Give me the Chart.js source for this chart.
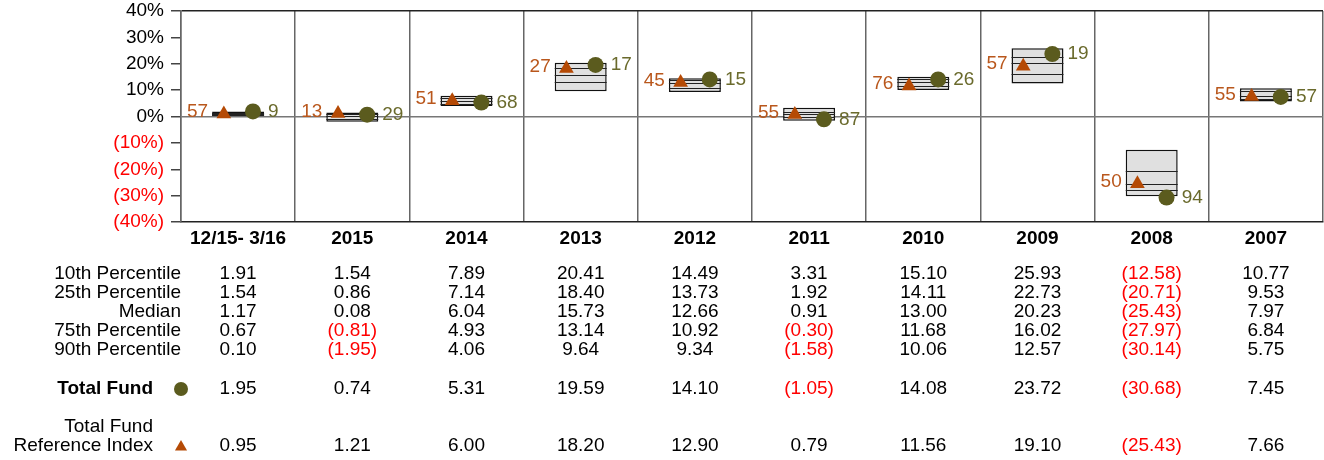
<!DOCTYPE html>
<html>
<head>
<meta charset="utf-8">
<script src="https://cdn.jsdelivr.net/npm/chart.js@4/dist/chart.umd.min.js"></script>
<style>
  body { margin: 0; background: #fff; overflow: hidden; }
  #wrap { width: 1324px; height: 460px; position: relative; }
</style>
</head>
<body>
<div id="wrap"><canvas id="chart"></canvas></div>
<script>
const categories = ['12/15- 3/16', '2015', '2014', '2013', '2012', '2011', '2010', '2009', '2008', '2007'];
const p10 = [1.91, 1.54, 7.89, 20.41, 14.49, 3.31, 15.10, 25.93, -12.58, 10.77];
const p25 = [1.54, 0.86, 7.14, 18.40, 13.73, 1.92, 14.11, 22.73, -20.71, 9.53];
const median = [1.17, 0.08, 6.04, 15.73, 12.66, 0.91, 13.00, 20.23, -25.43, 7.97];
const p75 = [0.67, -0.81, 4.93, 13.14, 10.92, -0.30, 11.68, 16.02, -27.97, 6.84];
const p90 = [0.10, -1.95, 4.06, 9.64, 9.34, -1.58, 10.06, 12.57, -30.14, 5.75];
const totalFund = [1.95, 0.74, 5.31, 19.59, 14.10, -1.05, 14.08, 23.72, -30.68, 7.45];
const refIndex = [0.95, 1.21, 6.00, 18.20, 12.90, 0.79, 11.56, 19.10, -25.43, 7.66];
const fundRanks = [9, 29, 68, 17, 15, 87, 26, 19, 94, 57];
const refRanks = [57, 13, 51, 27, 45, 55, 76, 57, 50, 55];
const yTicks = [-40, -30, -20, -10, 0, 10, 20, 30, 40];

const FONT = 'Arial, "Liberation Sans", sans-serif';
const FS = 19;
const OLIVE = '#5b5b1e';
const OLIVE_TEXT = '#6a6a2c';
const ORANGE = '#b54a05';
const ORANGE_TEXT = '#b9571c';
const RED = '#ff0000';

Chart.defaults.font.family = FONT;
Chart.defaults.color = '#000';

function fmt(v) {
  return v < 0 ? '(' + Math.abs(v).toFixed(2) + ')' : v.toFixed(2);
}

// percentile lines inside each box
const innerLines = {
  id: 'innerLines',
  afterDatasetDraw(chart, args) {
    if (args.index !== 0) return;
    const ctx = chart.ctx;
    const y = chart.scales.y;
    ctx.save();
    ctx.strokeStyle = '#222';
    ctx.lineWidth = 1;
    args.meta.data.forEach((bar, i) => {
      const half = bar.width / 2;
      [p25[i], median[i], p75[i]].forEach(v => {
        const py = Math.round(y.getPixelForValue(v)) + 0.5;
        ctx.beginPath();
        ctx.moveTo(bar.x - half, py);
        ctx.lineTo(bar.x + half, py);
        ctx.stroke();
      });
    });
    ctx.restore();
  }
};

// rank labels + data table under the chart
const extras = {
  id: 'extras',
  afterDraw(chart) {
    const ctx = chart.ctx;
    const x = chart.scales.x;
    const bars = chart.getDatasetMeta(0).data;
    const fundPts = chart.getDatasetMeta(1).data;
    const refPts = chart.getDatasetMeta(2).data;
    ctx.save();
    ctx.font = FS + 'px ' + FONT;
    ctx.textBaseline = 'middle';
    bars.forEach((bar, i) => {
      const half = bar.width / 2;
      ctx.textAlign = 'right';
      ctx.fillStyle = ORANGE_TEXT;
      ctx.fillText(String(refRanks[i]), bar.x - half - 4, refPts[i].y - 2);
      ctx.textAlign = 'left';
      ctx.fillStyle = OLIVE_TEXT;
      ctx.fillText(String(fundRanks[i]), bar.x + half + 4, fundPts[i].y);
    });

    // table
    const rows = [
      ['10th Percentile', p10, 274],
      ['25th Percentile', p25, 293],
      ['Median', median, 312],
      ['75th Percentile', p75, 331],
      ['90th Percentile', p90, 350],
      ['Total Fund', totalFund, 389],
      ['Reference Index', refIndex, 446]
    ];
    rows.forEach(([label, vals, ry], r) => {
      ctx.textAlign = 'right';
      ctx.fillStyle = '#000';
      if (r < 5) {
        ctx.font = FS + 'px ' + FONT;
        ctx.fillText(label, 181, ry);
      } else if (r === 5) {
        ctx.font = 'bold ' + FS + 'px ' + FONT;
        ctx.fillText(label, 153, ry);
      } else {
        ctx.font = FS + 'px ' + FONT;
        ctx.fillText('Total Fund', 153, ry - 19);
        ctx.fillText(label, 153, ry);
      }
      ctx.font = FS + 'px ' + FONT;
      ctx.textAlign = 'center';
      vals.forEach((v, i) => {
        ctx.fillStyle = v < 0 ? RED : '#000';
        ctx.fillText(fmt(v), x.getPixelForValue(i), ry);
      });
    });
    // legend markers in the table
    ctx.fillStyle = OLIVE;
    ctx.strokeStyle = OLIVE;
    Chart.helpers.drawPoint(ctx, { pointStyle: 'circle', radius: 7, borderWidth: 0 }, 181, 389);
    ctx.fillStyle = ORANGE;
    ctx.strokeStyle = ORANGE;
    Chart.helpers.drawPoint(ctx, { pointStyle: 'triangle', radius: 7, borderWidth: 0 }, 181, 447);
    ctx.restore();
  }
};

new Chart(document.getElementById('chart'), {
  data: {
    labels: categories,
    datasets: [
      {
        type: 'bar',
        data: p90.map((v, i) => [v, p10[i]]),
        backgroundColor: '#e0e0e0',
        borderColor: '#111',
        borderWidth: 1.5,
        borderSkipped: false,
        grouped: false,
        barPercentage: 0.455,
        categoryPercentage: 1,
        xAxisID: 'x',
        order: 2
      },
      {
        type: 'line',
        data: totalFund.map((v, i) => ({ x: i + 0.13, y: v })),
        showLine: false,
        pointStyle: 'circle',
        pointRadius: 8,
        pointBackgroundColor: OLIVE,
        pointBorderColor: OLIVE,
        pointBorderWidth: 0,
        xAxisID: 'xm',
        order: 0
      },
      {
        type: 'line',
        data: refIndex.map((v, i) => ({ x: i - 0.125, y: v })),
        showLine: false,
        pointStyle: 'triangle',
        pointRadius: 8.5,
        pointBackgroundColor: ORANGE,
        pointBorderColor: ORANGE,
        pointBorderWidth: 0,
        xAxisID: 'xm',
        order: 1
      }
    ]
  },
  options: {
    responsive: true,
    maintainAspectRatio: false,
    animation: false,
    events: [],
    layout: { autoPadding: false, padding: { top: 11, right: 1, bottom: 205, left: 0 } },
    plugins: { legend: { display: false }, tooltip: { enabled: false } },
    scales: {
      x: {
        type: 'category',
        offset: true,
        afterFit(scale) {
          scale.paddingLeft = 0;
          scale.paddingRight = 0;
        },
        grid: { offset: true, color: '#666', lineWidth: 1.5, drawTicks: false },
        border: { color: '#222', width: 1.5 },
        ticks: { font: { size: FS, weight: 'bold' }, color: '#000', padding: 5, maxRotation: 0 }
      },
      xm: {
        type: 'linear',
        display: false,
        min: -0.5,
        max: 9.5
      },
      y: {
        min: -40,
        max: 40,
        afterFit(scale) {
          scale.width = 181;
          scale.paddingTop = 0;
          scale.paddingBottom = 0;
        },
        afterBuildTicks(scale) { scale.ticks = yTicks.map(v => ({ value: v })); },
        grid: {
          color: ctx => ctx.tick && ctx.tick.value === 40 ? '#222' : (ctx.tick && ctx.tick.value === 0 ? '#777' : 'rgba(0,0,0,0)'),
          lineWidth: 1.5,
          tickColor: '#444',
          tickLength: 10
        },
        border: { color: '#666', width: 1.5 },
        ticks: {
          font: { size: FS },
          padding: 7,
          autoSkip: false,
          color: ctx => ctx.tick.value < 0 ? RED : '#000',
          callback: v => v < 0 ? '(' + Math.abs(v) + '%)' : v + '%'
        }
      }
    }
  },
  plugins: [innerLines, extras]
});
</script>
</body>
</html>
